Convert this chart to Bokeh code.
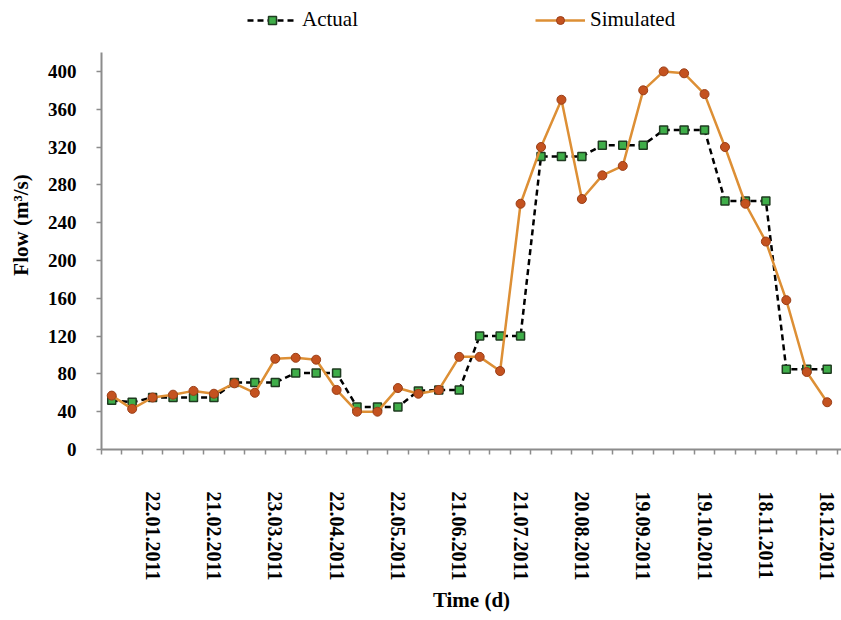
from bokeh.plotting import figure
from bokeh.models import FixedTicker, Legend, LegendItem
from bokeh.embed import file_html
from bokeh.resources import INLINE

# ---- data ----
idx = list(range(36))  # ten-day steps through 2011
actual = [52, 50, 55, 55, 55, 55, 71, 71, 71, 81, 81, 81, 45, 45, 45, 62, 63, 63,
          120, 120, 120, 310, 310, 310, 322, 322, 322, 338, 338, 338, 263, 263, 263,
          85, 85, 85]
simulated = [57, 43, 55, 58, 62, 59, 70, 60, 96, 97, 95, 63, 40, 40, 65, 59, 63, 98,
             98, 83, 260, 320, 370, 265, 290, 300, 380, 400, 398, 376, 320, 260, 220,
             158, 82, 50]
tick_pos = [2, 5, 8, 11, 14, 17, 20, 23, 26, 29, 32, 35]
tick_labels = ["22.01.2011", "21.02.2011", "23.03.2011", "22.04.2011", "22.05.2011",
               "21.06.2011", "21.07.2011", "20.08.2011", "19.09.2011", "19.10.2011",
               "18.11.2011", "18.12.2011"]
y_ticks = [0, 40, 80, 120, 160, 200, 240, 280, 320, 360, 400]

SERIF = "Liberation Serif"
AXIS_GRAY = "#8c8c8c"

# frame spans the full canvas height above the x axis; the y axis line stops at 420
p = figure(width=841, height=620, x_range=(-0.5, 35.7), y_range=(0, 475.0),
           output_backend="svg", toolbar_location=None,
           min_border_left=101, min_border_right=0, min_border_top=0,
           min_border_bottom=171)
p.outline_line_color = None
p.xgrid.visible = False
p.ygrid.visible = False
p.background_fill_color = "white"
p.border_fill_color = "white"

# x axis
xa = p.xaxis[0]
xa.ticker = FixedTicker(ticks=tick_pos, minor_ticks=[i - 0.5 for i in range(37)])
xa.major_label_overrides = {t: lab for t, lab in zip(tick_pos, tick_labels)}
xa.major_tick_line_color = None
xa.major_tick_out = 0
xa.major_tick_in = 0
xa.minor_tick_line_color = AXIS_GRAY
xa.minor_tick_line_width = 1.5
xa.minor_tick_out = 5
xa.minor_tick_in = 0
xa.axis_line_color = AXIS_GRAY
xa.axis_line_width = 2
xa.major_label_orientation = "vertical"
xa.major_label_standoff = 37
xa.major_label_text_font = SERIF
xa.major_label_text_font_style = "bold"
xa.major_label_text_font_size = "20px"
xa.major_label_text_color = "black"
xa.axis_label = "Time (d)"
xa.axis_label_text_font = SERIF
xa.axis_label_text_font_style = "bold"
xa.axis_label_text_font_size = "21px"
xa.axis_label_text_color = "black"
xa.axis_label_standoff = 5

# y axis
ya = p.yaxis[0]
ya.ticker = FixedTicker(ticks=y_ticks)
ya.bounds = (0, 420)
ya.minor_tick_line_color = None
ya.major_tick_line_color = AXIS_GRAY
ya.major_tick_line_width = 1.5
ya.major_tick_out = 5
ya.major_tick_in = 0
ya.axis_line_color = AXIS_GRAY
ya.axis_line_width = 2
ya.major_label_standoff = 20
ya.major_label_text_font = SERIF
ya.major_label_text_font_style = "bold"
ya.major_label_text_font_size = "19px"
ya.major_label_text_color = "black"
ya.axis_label = "Flow (m³/s)"
ya.axis_label_text_font = SERIF
ya.axis_label_text_font_style = "bold"
ya.axis_label_text_font_size = "21px"
ya.axis_label_text_color = "black"
ya.axis_label_standoff = 12

# series
l1 = p.line(idx, actual, line_color="black", line_dash="6 4", line_width=2.5)
s1 = p.scatter(idx, actual, marker="square", size=8, fill_color="#3fae49",
               line_color="#1f3b20", line_width=1.5)
l2 = p.line(idx, simulated, line_color="#dd8f35", line_width=2.5)
s2 = p.scatter(idx, simulated, marker="circle", size=9, fill_color="#c4521f",
               line_color="#9a3e17", line_width=1)

legend = Legend(items=[LegendItem(label="Actual", renderers=[l1, s1]),
                       LegendItem(label="Simulated", renderers=[l2, s2])],
                orientation="horizontal", location=(146, 417), spacing=177,
                glyph_width=50, glyph_height=20, label_standoff=5,
                label_text_font=SERIF, label_text_font_size="21px",
                label_text_color="black", border_line_color=None,
                background_fill_alpha=0, padding=0, margin=0)
p.add_layout(legend, "center")

open("out.html", "w").write(file_html(p, INLINE))
